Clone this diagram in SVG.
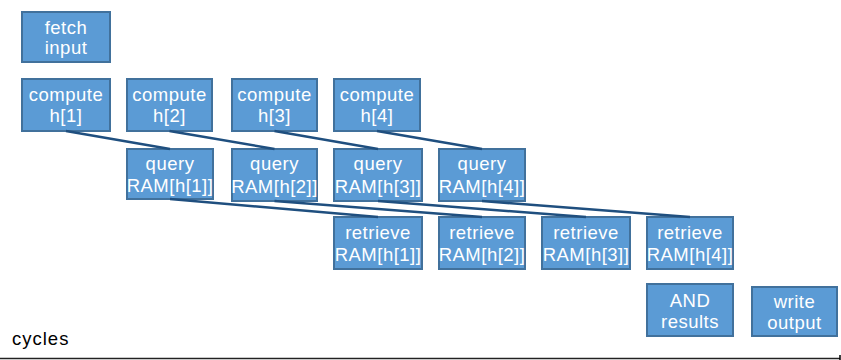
<svg xmlns="http://www.w3.org/2000/svg" width="841" height="360" viewBox="0 0 841 360">
<style>
.box{fill:#5b9bd5;stroke:#41719c;stroke-width:2}
.t{font-family:"Liberation Sans",Arial,sans-serif;font-size:18.5px;fill:#fff;text-anchor:middle;letter-spacing:0.5px}
.c{stroke:#1f4f7f;stroke-width:2.5;fill:none}
.lbl{font-family:"Liberation Sans",Arial,sans-serif;font-size:18.5px;fill:#000;letter-spacing:1px}
</style>
<rect width="841" height="360" fill="#fff"/>
<g id="fetch"><rect class="box" x="22" y="12" width="88" height="50"/><text class="t" x="66" y="34">fetch</text><text class="t" x="66" y="54">input</text></g>
<g id="compute1"><rect class="box" x="22" y="79" width="88" height="52"/><text class="t" x="66" y="101">compute</text><text class="t" x="66" y="122">h[1]</text></g>
<g id="compute2"><rect class="box" x="127" y="79" width="85" height="52"/><text class="t" x="169.5" y="101">compute</text><text class="t" x="169.5" y="122">h[2]</text></g>
<g id="compute3"><rect class="box" x="232" y="79" width="85" height="52"/><text class="t" x="274.5" y="101">compute</text><text class="t" x="274.5" y="122">h[3]</text></g>
<g id="compute4"><rect class="box" x="334" y="79" width="86" height="52"/><text class="t" x="377" y="101">compute</text><text class="t" x="377" y="122">h[4]</text></g>
<g id="query1"><rect class="box" x="127" y="149" width="86" height="50"/><text class="t" x="170" y="170">query</text><text class="t" x="170" y="192">RAM[h[1]]</text></g>
<g id="query2"><rect class="box" x="232" y="149" width="85" height="52"/><text class="t" x="274.5" y="170">query</text><text class="t" x="274.5" y="193">RAM[h[2]]</text></g>
<g id="query3"><rect class="box" x="334" y="149" width="88" height="52"/><text class="t" x="378" y="170">query</text><text class="t" x="378" y="193">RAM[h[3]]</text></g>
<g id="query4"><rect class="box" x="439" y="149" width="86" height="52"/><text class="t" x="482" y="170">query</text><text class="t" x="482" y="193">RAM[h[4]]</text></g>
<g id="retrieve1"><rect class="box" x="334" y="217" width="88" height="52"/><text class="t" x="378" y="239">retrieve</text><text class="t" x="378" y="261">RAM[h[1]]</text></g>
<g id="retrieve2"><rect class="box" x="439" y="217" width="86" height="52"/><text class="t" x="482" y="239">retrieve</text><text class="t" x="482" y="261">RAM[h[2]]</text></g>
<g id="retrieve3"><rect class="box" x="542" y="217" width="88" height="52"/><text class="t" x="586" y="239">retrieve</text><text class="t" x="586" y="261">RAM[h[3]]</text></g>
<g id="retrieve4"><rect class="box" x="647" y="217" width="86" height="52"/><text class="t" x="690" y="239">retrieve</text><text class="t" x="690" y="261">RAM[h[4]]</text></g>
<g id="and"><rect class="box" x="647" y="284" width="86" height="52"/><text class="t" x="690" y="307">AND</text><text class="t" x="690" y="328">results</text></g>
<g id="write"><rect class="box" x="752" y="287" width="85" height="49"/><text class="t" x="794.5" y="308">write</text><text class="t" x="794.5" y="329">output</text></g>
<g id="connectors">
<line class="c" x1="66" y1="131" x2="170" y2="149"/>
<line class="c" x1="169.5" y1="131" x2="274.5" y2="149"/>
<line class="c" x1="274.5" y1="131" x2="378" y2="149"/>
<line class="c" x1="377" y1="131" x2="482" y2="149"/>
<line class="c" x1="170" y1="199" x2="378" y2="217"/>
<line class="c" x1="274.5" y1="201" x2="482" y2="217"/>
<line class="c" x1="378" y1="201" x2="586" y2="217"/>
<line class="c" x1="482" y1="201" x2="690" y2="217"/>
</g>
<g id="axis">
<line x1="0" y1="358.5" x2="840" y2="358.5" stroke="#222" stroke-width="1.5"/>
<line x1="840" y1="355" x2="840" y2="360" stroke="#000" stroke-width="1.5"/>
<text class="lbl" x="12" y="345">cycles</text>
</g>
</svg>
